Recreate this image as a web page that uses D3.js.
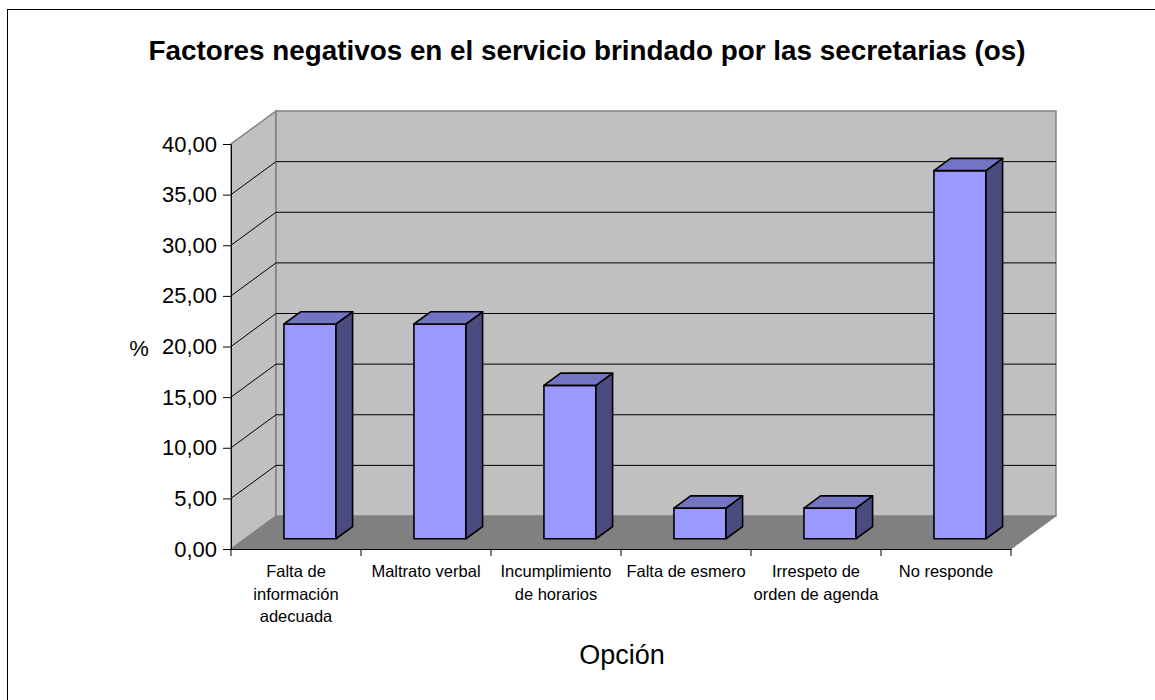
<!DOCTYPE html>
<html>
<head>
<meta charset="utf-8">
<script src="https://cdn.jsdelivr.net/npm/d3@7/dist/d3.min.js"></script>
<style>
  html, body { margin: 0; padding: 0; background: #fff; }
  svg { display: block; font-family: Arial, "Liberation Sans", sans-serif; }
</style>
</head>
<body>
<svg id="chart" width="1155" height="700"></svg>
<script>
// Categories (each label split into its printed lines)
const categories = [
  "Falta de información adecuada",
  "Maltrato verbal",
  "Incumplimiento de horarios",
  "Falta de esmero",
  "Irrespeto de orden de agenda",
  "No responde"
];
const categoryLines = [
  ["Falta de", "información", "adecuada"],
  ["Maltrato verbal"],
  ["Incumplimiento", "de horarios"],
  ["Falta de esmero"],
  ["Irrespeto de", "orden de agenda"],
  ["No responde"]
];
// Percentage per option
const values = [21.21, 21.21, 15.15, 3.03, 3.03, 36.36];
// Value axis ticks
const yTicks = [0, 5, 10, 15, 20, 25, 30, 35, 40];

const titleText = "Factores negativos en el servicio brindado por las secretarias (os)";
const yTitle = "%";
const xTitle = "Opción";

const svg = d3.select("#chart");

// Front plane of the 3D box and its depth offset
const x = d3.scaleBand().domain(categories).range([231, 1011]);
const y = d3.scaleLinear().domain([0, 40]).range([549, 144]);
const DX = 45, DY = -33;
// project a point (screen x, value, depth 0..1) into the view
const P = (px, v, z) => [px + z * DX, y(v) + z * DY];
const poly = pts => "M" + pts.map(p => p.join(",")).join("L") + "Z";

const fmt = d3.formatLocale({ decimal: ",", thousands: ".", grouping: [3], currency: ["", ""] }).format(".2f");

// Outer frame
svg.append("rect")
  .attr("x", 7.5).attr("y", 9.5).attr("width", 1300).attr("height", 900)
  .attr("fill", "#fff").attr("stroke", "#000").attr("stroke-width", 1);

// Title
svg.append("text")
  .attr("x", 587).attr("y", 60)
  .attr("text-anchor", "middle")
  .attr("font-size", 27.5).attr("font-weight", "bold")
  .attr("textLength", 877).attr("lengthAdjust", "spacingAndGlyphs")
  .text(titleText);

const x0 = x.range()[0], x1 = x.range()[1];
const vMin = y.domain()[0], vMax = y.domain()[1];

const walls = svg.append("g");
// Floor
walls.append("path")
  .attr("d", poly([P(x0, vMin, 0), P(x1, vMin, 0), P(x1, vMin, 1), P(x0, vMin, 1)]))
  .attr("fill", "#808080").attr("stroke", "#808080");
// Side wall
walls.append("path")
  .attr("d", poly([P(x0, vMin, 0), P(x0, vMax, 0), P(x0, vMax, 1), P(x0, vMin, 1)]))
  .attr("fill", "#c0c0c0").attr("stroke", "#808080").attr("stroke-width", 1.5);
// Back wall
walls.append("path")
  .attr("d", poly([P(x0, vMin, 1), P(x0, vMax, 1), P(x1, vMax, 1), P(x1, vMin, 1)]))
  .attr("fill", "#c0c0c0").attr("stroke", "#808080").attr("stroke-width", 1.5);

// Gridlines on side and back walls
const grid = yTicks.filter(t => t > vMin && t < vMax);
walls.selectAll("path.grid").data(grid).join("path")
  .attr("class", "grid")
  .attr("d", t => "M" + P(x0, t, 0).join(",") + "L" + P(x0, t, 1).join(",") + "L" + P(x1, t, 1).join(","))
  .attr("fill", "none").attr("stroke", "#000").attr("stroke-width", 1);

// Bars as 3D prisms
const zF = 0.31, zB = 0.68;
const bw = x.bandwidth();
const bars = svg.append("g");
categories.forEach((c, i) => {
  const L = x(c) + bw * 0.3, R = x(c) + bw * 0.7, v = values[i];
  const g = bars.append("g").attr("stroke", "#000").attr("stroke-width", 1.6).attr("stroke-linejoin", "round");
  // front
  g.append("path").attr("fill", "#9999ff")
    .attr("d", poly([P(L, 0, zF), P(R, 0, zF), P(R, v, zF), P(L, v, zF)]));
  // right side
  g.append("path").attr("fill", "#4b4b80")
    .attr("d", poly([P(R, 0, zF), P(R, 0, zB), P(R, v, zB), P(R, v, zF)]));
  // top
  g.append("path").attr("fill", "#7474c4")
    .attr("d", poly([P(L, v, zF), P(R, v, zF), P(R, v, zB), P(L, v, zB)]));
});

// Value axis
const yAxis = svg.append("g")
  .attr("transform", `translate(${x0},0)`)
  .call(d3.axisLeft(y).tickValues(yTicks).tickFormat(fmt).tickSize(8).tickPadding(6).tickSizeOuter(0));
yAxis.select(".domain").attr("stroke", "#000");
yAxis.selectAll(".tick line").attr("stroke", "#000");
yAxis.selectAll(".tick text")
  .attr("font-size", 22).attr("font-family", "Arial, 'Liberation Sans', sans-serif").attr("fill", "#000");

// Category axis
const xAxis = svg.append("g")
  .attr("transform", `translate(0,${y(0)})`)
  .call(d3.axisBottom(x).tickSize(0).tickFormat(""));
xAxis.select(".domain").attr("stroke", "#000");
// ticks at band boundaries
const bounds = categories.map(c => x(c)).concat([x1]);
xAxis.selectAll("line.sep").data(bounds).join("line")
  .attr("class", "sep")
  .attr("x1", d => d).attr("x2", d => d).attr("y1", 0).attr("y2", 7)
  .attr("stroke", "#000");

// Category labels
const lab = svg.append("g").attr("font-size", 16.5).attr("text-anchor", "middle").attr("fill", "#000");
categories.forEach((c, i) => {
  const t = lab.append("text").attr("x", x(c) + bw / 2).attr("y", 577);
  categoryLines[i].forEach((line, k) => {
    t.append("tspan").attr("x", x(c) + bw / 2).attr("dy", k === 0 ? 0 : 22.5).text(line);
  });
});

// Axis titles
svg.append("text").attr("x", 139).attr("y", 356).attr("text-anchor", "middle")
  .attr("font-size", 22).text(yTitle);
svg.append("text").attr("x", 622).attr("y", 664).attr("text-anchor", "middle")
  .attr("font-size", 27).text(xTitle);
</script>
</body>
</html>
